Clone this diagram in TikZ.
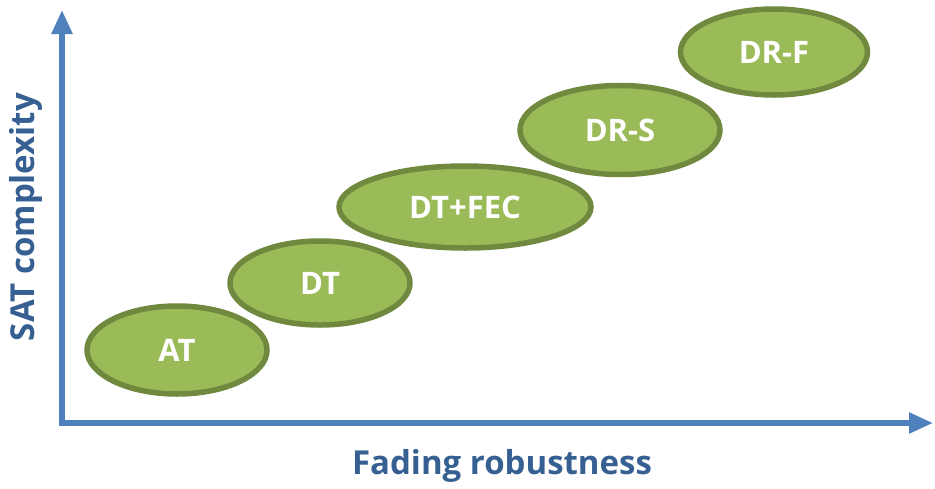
\documentclass[tikz,border=0pt]{standalone}
\usepackage{fontspec}
\setmainfont{Open Sans}
\usepackage{tikz}
\usetikzlibrary{arrows.meta, positioning, shapes}
\definecolor{axisblue}{HTML}{4F81BD}
\definecolor{labelblue}{HTML}{376092}
\definecolor{ovalgreen}{HTML}{9BBB59}
\definecolor{ovalline}{HTML}{71893F}

\begin{document}
\begin{tikzpicture}[ % GLOBAL CFG
    x=1pt, y=-1pt,
    font=\bfseries,
    >={Triangle[length=24pt, width=20pt]},
    % Styles
    scheme/.style={% For the green ovals
        ellipse,
        draw=ovalline,
        fill=ovalgreen,
        line width=5.5pt,
        inner sep=0pt,
        text=white,
        font=\fontsize{31}{37}\selectfont\bfseries,
        },
    axis/.style={% For the two axes
        draw=axisblue,
        line width=5.5pt,
        line join=miter,
        },
    axislabel/.style={% For the axis titles
        text=labelblue,
        font=\fontsize{33}{40}\selectfont\bfseries,
        },
    ]

    \useasboundingbox (0,0) rectangle (935,488);

    % Axes
    \coordinate (ytop) at (62, 10);
    \coordinate (xend) at (933, 423);
    \draw [axis, <->] (ytop) |- (xend);

    \node [axislabel, rotate=90] (ylabel) at (26, 217) {SAT complexity};
    \node [axislabel] (xlabel) at (502, 466) {Fading robustness};

    % Schemes
    \node [scheme, minimum width=180pt, minimum height=88pt] (at) at (177, 350) {AT};
    \node [scheme, minimum width=180pt, minimum height=84pt] (dt) at (320, 283) {DT};
    \node [scheme, minimum width=252pt, minimum height=82pt] (dtfec) at (465, 207) {DT+FEC};
    \node [scheme, minimum width=200pt, minimum height=89pt] (drs) at (620, 130) {DR-S};
    \node [scheme, minimum width=187pt, minimum height=86pt] (drf) at (774, 52) {DR-F};

\end{tikzpicture}
\end{document}
